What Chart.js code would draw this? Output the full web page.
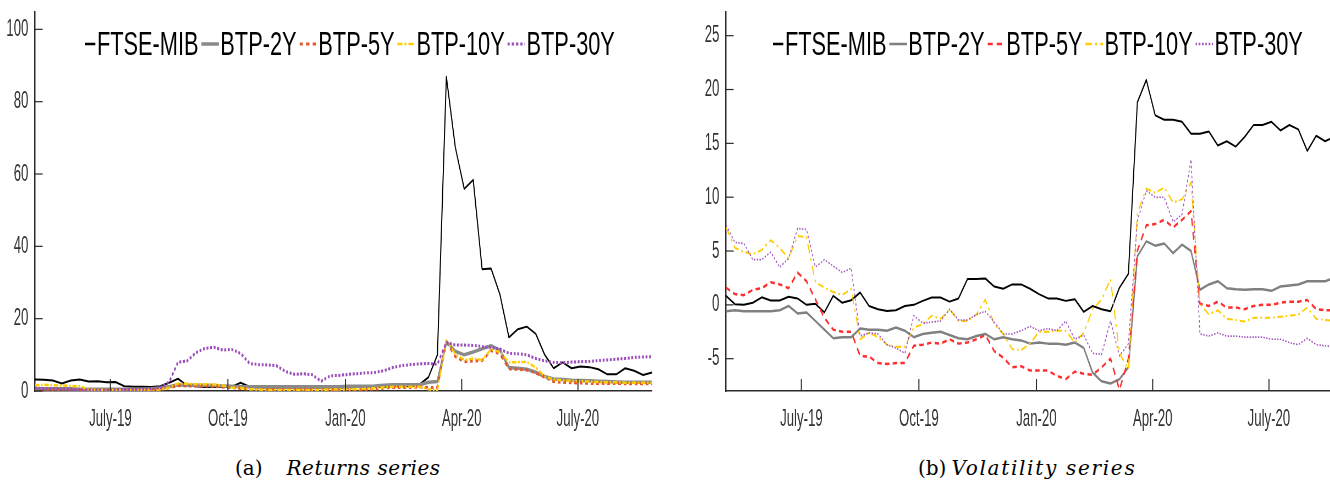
<!DOCTYPE html>
<html>
<head>
<meta charset="utf-8">
<script src="https://cdn.jsdelivr.net/npm/chart.js@4.4.1/dist/chart.umd.min.js"></script>
<style>
  html, body { margin: 0; padding: 0; background: #fff; }
  body { width: 1330px; height: 483px; overflow: hidden; position: relative; }
  /* the original figure is squeezed horizontally, so each chart is drawn wide and scaled down */
  .panel { position: absolute; top: 0; width: 1200px; height: 440px; transform: scaleX(0.55); transform-origin: 0 0; }
  #panelLeft { left: 0; }
  #panelRight { left: 691px; }
  .legend { position: absolute; top: 27px; height: 33px; display: flex; align-items: center; white-space: nowrap;
            font-family: 'Liberation Sans', Arial, sans-serif; font-size: 33px; line-height: 33px; color: #000;
            transform: scaleX(0.66); transform-origin: 0 0; }
  .legend .item { display: flex; align-items: center; margin-right: 4px; }
  .legend svg { margin-right: 2px; }
  .caption { position: absolute; top: 458px; font-family: 'DejaVu Serif', serif; font-size: 20px; line-height: 20px; color: #000; white-space: nowrap; }
  .caption i { font-style: italic; }
</style>
</head>
<body>
<div class="panel" id="panelLeft"><canvas id="retChart" width="1200" height="440"></canvas></div>
<div class="panel" id="panelRight"><canvas id="volChart" width="1200" height="440"></canvas></div>
<div class="legend" id="legendLeft" style="left:85px"></div>
<div class="legend" id="legendRight" style="left:773px"></div>
<div class="caption" style="left:235px">(a)<i style="margin-left:24px;letter-spacing:0.5px">Returns series</i></div>
<div class="caption" style="left:918px">(b)<i style="margin-left:5px;letter-spacing:1.7px">Volatility series</i></div>

<script>
// ---- data ----
const startDate = '2019-05-03';   // first weekly observation
const stepDays = 7;
const quarterDates = ['2019-07-01', '2019-10-01', '2020-01-01', '2020-04-01', '2020-07-01'];
const quarterLabels = ['July-19', 'Oct-19', 'Jan-20', 'Apr-20', 'July-20'];
const seriesNames = ['FTSE-MIB', 'BTP-2Y', 'BTP-5Y', 'BTP-10Y', 'BTP-30Y'];

// (a) returns
const ftseRet = [3.2,3.1,2.9,2.1,2.9,3.2,2.6,2.7,2.4,2.5,
  1.3,1.2,1.2,1.1,1.3,2.3,3.4,1.5,1.3,1.1,
  1.1,1.1,1.2,2.3,1.2,1.0,1.0,1.0,1.0,1.0,
  1.0,1.0,1.0,1.0,1.0,1.0,1.1,1.1,1.2,1.2,
  1.3,1.3,1.3,1.8,3.8,10.0,86.9,67.4,55.9,58.4,
  33.7,33.9,26.6,14.8,17.1,17.8,15.8,10.0,6.3,7.9,
  6.3,6.8,6.6,6.0,4.6,4.6,6.3,5.6,4.4,5.1];
const btp2Ret = [0.6,0.6,0.6,0.6,0.6,0.5,0.5,0.5,0.5,0.5,
  0.5,0.5,0.5,0.6,0.8,1.2,1.7,1.6,1.6,1.6,
  1.5,1.4,1.3,1.2,1.2,1.2,1.2,1.2,1.2,1.2,
  1.2,1.2,1.2,1.2,1.2,1.3,1.3,1.3,1.4,1.6,
  1.7,1.7,1.7,1.7,2.4,2.6,13.6,11.0,10.0,10.8,
  11.7,12.5,11.3,6.5,6.3,6.0,5.2,4.0,3.3,3.2,
  3.0,2.9,2.8,2.7,2.6,2.5,2.4,2.4,2.4,2.4];
const btp5Ret = [0.3,0.3,0.3,0.3,0.3,0.2,0.2,0.2,0.2,0.2,
  0.2,0.2,0.2,0.3,0.4,0.9,1.5,1.4,1.4,1.4,
  1.3,1.1,0.9,0.7,0.5,0.4,0.4,0.4,0.4,0.4,
  0.4,0.4,0.4,0.3,0.3,0.3,0.3,0.4,0.5,0.8,
  1.0,1.0,1.0,1.1,1.0,1.0,13.6,9.5,8.1,8.3,
  8.4,11.2,10.2,6.1,6.0,5.8,5.0,3.8,2.6,2.4,
  2.3,2.2,2.1,2.1,2.1,2.1,2.0,2.0,2.0,2.0];
const btp10Ret = [1.6,1.7,1.6,1.5,1.4,1.3,0.4,0.3,0.3,0.3,
  0.3,0.3,0.3,0.3,0.4,0.9,2.1,2.0,1.9,1.9,
  1.8,1.5,1.0,0.8,0.5,0.4,0.3,0.3,0.3,0.3,
  0.3,0.3,0.3,0.4,0.4,0.5,0.5,0.6,0.8,1.0,
  1.2,1.2,1.2,1.2,0.5,0.1,14.0,10.2,8.6,9.0,
  8.6,11.5,10.8,7.9,8.0,8.0,6.5,4.0,3.2,2.9,
  2.8,2.7,2.6,2.5,2.4,2.4,2.3,2.3,2.3,2.3];
const btp30Ret = [0.8,0.7,0.7,0.6,0.5,0.3,0.2,0.2,0.3,0.3,
  0.4,0.4,0.5,0.6,0.9,2.5,8.0,8.3,10.6,11.8,
  12.1,11.3,11.5,10.4,7.6,7.3,7.2,7.0,5.4,4.6,
  4.8,4.5,2.7,4.2,4.3,4.6,4.8,5.0,5.1,5.6,
  6.5,7.0,7.3,7.5,7.6,7.4,13.5,12.7,12.7,12.6,
  12.3,12.0,11.6,10.4,10.3,10.0,9.0,8.3,7.9,7.8,
  8.0,8.1,8.2,8.4,8.6,8.8,9.0,9.3,9.4,9.5];

// (b) volatility
const ftseVol = [0.84,0.06,0.0,0.2,0.7,0.4,0.4,0.75,0.6,0.0,
  0.1,-0.7,0.84,0.2,0.43,1.15,-0.1,-0.4,-0.56,-0.5,
  -0.1,0.0,0.37,0.68,0.68,0.3,0.6,2.4,2.4,2.45,
  1.7,1.5,1.9,1.9,1.5,1.0,0.6,0.6,0.37,0.53,
  -0.65,-0.1,-0.4,-0.6,1.6,2.9,18.8,20.9,17.6,17.2,
  17.2,17.0,15.9,15.9,16.1,14.8,15.2,14.7,15.6,16.7,
  16.7,17.0,16.2,16.7,16.3,14.3,15.7,15.2,15.6,15.8];
const btp2Vol = [-0.6,-0.5,-0.6,-0.6,-0.6,-0.6,-0.5,-0.1,-0.8,-0.7,
  -1.5,-2.3,-3.1,-3.0,-3.0,-2.2,-2.3,-2.3,-2.4,-2.1,
  -2.4,-3.0,-2.7,-2.6,-2.5,-2.8,-3.1,-3.2,-2.9,-2.7,
  -3.2,-3.0,-3.2,-3.3,-3.6,-3.5,-3.6,-3.6,-3.7,-3.5,
  -4.0,-6.3,-7.1,-7.3,-6.9,-5.8,4.5,5.9,5.5,5.7,
  4.8,5.6,5.0,1.4,1.9,2.2,1.55,1.45,1.4,1.45,
  1.45,1.3,1.7,1.8,1.9,2.2,2.2,2.2,2.5,2.5];
const btp5Vol = [1.6,1.0,0.9,1.4,1.55,2.1,1.9,1.55,3.0,2.2,
  0.5,-1.2,-2.3,-2.5,-2.5,-4.75,-4.8,-5.4,-5.5,-5.4,
  -5.4,-3.8,-3.7,-3.5,-3.6,-3.2,-3.6,-3.5,-3.2,-2.8,
  -4.3,-4.9,-5.8,-5.7,-6.1,-6.1,-6.1,-6.6,-6.9,-6.2,
  -6.4,-6.5,-5.8,-5.0,-7.9,-5.0,5.0,7.4,7.5,7.9,
  7.2,7.9,8.7,0.1,-0.1,0.3,-0.25,-0.25,-0.4,-0.1,
  0.0,0.0,0.2,0.3,0.3,0.45,-0.4,-0.5,-0.5,-0.5];
const btp10Vol = [7.2,5.3,4.9,4.7,5.1,6.0,5.3,4.3,6.4,6.3,
  2.1,1.6,1.2,0.9,1.5,-3.2,-2.6,-3.0,-3.7,-3.9,
  -3.9,-2.1,-1.8,-1.0,-1.3,-0.4,-1.5,-1.5,-0.9,0.5,
  -1.8,-2.7,-4.1,-4.2,-3.6,-2.5,-2.5,-2.4,-2.4,-3.5,
  -2.6,-0.4,0.5,2.4,-4.5,-6.0,8.5,10.8,10.4,10.9,
  9.5,9.8,11.4,0.1,-0.9,-0.5,-1.3,-1.4,-1.55,-1.2,
  -1.2,-1.2,-1.1,-1.0,-0.9,-0.25,-1.3,-1.4,-1.5,-1.5];
const btp30Vol = [7.4,5.8,5.7,4.2,4.2,4.9,3.5,4.3,7.1,7.0,
  3.5,4.2,3.6,3.0,3.4,-2.9,-2.6,-2.7,-3.7,-4.0,
  -4.5,-1.0,-1.7,-1.6,-1.5,-0.4,-1.4,-1.4,-0.9,-0.6,
  -1.6,-2.7,-2.7,-2.4,-2.0,-2.4,-2.2,-2.4,-1.5,-3.2,
  -2.8,-4.5,-4.6,-1.5,-4.75,-3.6,7.8,10.6,10.0,10.0,
  7.7,8.4,13.5,-2.7,-2.9,-2.6,-2.9,-2.9,-3.0,-3.0,
  -3.0,-3.2,-3.2,-3.5,-3.7,-3.1,-3.7,-3.8,-3.9,-3.9];

const retTicks = [0, 20, 40, 60, 80, 100];
const volTicks = [-5, 0, 5, 10, 15, 20, 25];

// ---- styles ----
const axisColor = '#2b2b2b';
const tickFont = { family: "'Liberation Sans', Arial, sans-serif", size: 24 };
const tickColor = '#333';

const retStyles = [
  { color: '#000000', width: 2,   dash: [] },
  { color: '#8a8a8a', width: 3.5, dash: [] },
  { color: '#e2572b', width: 3,   dash: [5, 5] },
  { color: '#ffcc00', width: 2.5, dash: [8, 3, 3, 3] },
  { color: '#9a4dbb', width: 3,   dash: [3.5, 3] }
];
const volStyles = [
  { color: '#000000', width: 2,   dash: [] },
  { color: '#808080', width: 2.5, dash: [] },
  { color: '#ff2e2e', width: 2.5, dash: [8, 6] },
  { color: '#ffcc00', width: 2,   dash: [10, 5, 3, 5] },
  { color: '#a055bb', width: 1.6, dash: [2.5, 2.5] }
];

const dayMs = 86400000;
const daysFromStart = d => Math.round((Date.parse(d) - Date.parse(startDate)) / dayMs);
const tickDays = quarterDates.map(daysFromStart);
const toPoints = vals => vals.map((v, i) => ({ x: i * stepDays, y: v }));

// MATLAB-like tick marks pointing into the plot
const inwardTicks = {
  id: 'inwardTicks',
  afterDraw(chart) {
    const { ctx, chartArea, scales } = chart;
    ctx.save();
    ctx.strokeStyle = axisColor;
    ctx.lineWidth = 2;
    scales.x.ticks.forEach(t => {
      const px = scales.x.getPixelForValue(t.value);
      ctx.beginPath();
      ctx.moveTo(px, chartArea.bottom);
      ctx.lineTo(px, chartArea.bottom - 12);
      ctx.stroke();
    });
    ctx.lineWidth = 1.2;
    scales.y.ticks.forEach(t => {
      const py = scales.y.getPixelForValue(t.value);
      ctx.beginPath();
      ctx.moveTo(chartArea.left, py);
      ctx.lineTo(chartArea.left + 14, py);
      ctx.stroke();
    });
    ctx.restore();
  }
};

function makeChart(id, series, styles, yMin, yMax, yTicks) {
  const datasets = series.map((vals, k) => ({
    label: seriesNames[k],
    data: toPoints(vals),
    borderColor: styles[k].color,
    borderWidth: styles[k].width,
    borderDash: styles[k].dash,
    borderJoinStyle: 'round',
    pointRadius: 0,
    tension: 0,
    fill: false,
    order: series.length - k
  }));
  const xMax = (series[0].length - 1) * stepDays;

  return new Chart(document.getElementById(id), {
    type: 'line',
    data: { datasets },
    plugins: [inwardTicks],
    options: {
      responsive: false,
      animation: false,
      devicePixelRatio: 1,
      layout: { padding: { top: 12, right: 14.5, bottom: 0, left: 0 } },
      plugins: { legend: { display: false }, tooltip: { enabled: false } },
      scales: {
        x: {
          type: 'linear', min: 0, max: xMax,
          border: { display: true, color: axisColor, width: 1.5 },
          grid: { display: false, drawTicks: false },
          ticks: { font: tickFont, color: tickColor, padding: 14, autoSkip: false, maxRotation: 0,
                   callback: (v, i) => quarterLabels[i] },
          afterBuildTicks: s => { s.ticks = tickDays.map(v => ({ value: v })); },
          afterFit: s => { s.height = 49; s.paddingLeft = 0; s.paddingRight = 0; }
        },
        y: {
          min: yMin, max: yMax,
          border: { display: true, color: axisColor, width: 2.5 },
          grid: { display: false, drawTicks: false },
          ticks: { font: tickFont, color: tickColor, padding: 12 },
          afterBuildTicks: s => { s.ticks = yTicks.map(v => ({ value: v })); },
          // fixed axis width, and no extra room for half a label above the top tick
          afterFit: s => { s.width = 63.6; s.paddingTop = 0; s.paddingBottom = 0; }
        }
      }
    }
  });
}

function buildLegend(id, styles) {
  const box = document.getElementById(id);
  styles.forEach((st, k) => {
    const w = k === 0 ? 16 : 27;
    const item = document.createElement('span');
    item.className = 'item';
    item.innerHTML =
      '<svg width="' + w + '" height="12"><line x1="0" y1="6" x2="' + w + '" y2="6" stroke="' + st.color +
      '" stroke-width="' + Math.max(st.width, 2.5) + '" stroke-dasharray="' + (st.dash.join(' ') || 'none') + '"/></svg>' +
      '<span>' + seriesNames[k] + '</span>';
    box.appendChild(item);
  });
}

makeChart('retChart', [ftseRet, btp2Ret, btp5Ret, btp10Ret, btp30Ret], retStyles, 0, 104.8, retTicks);
makeChart('volChart', [ftseVol, btp2Vol, btp5Vol, btp10Vol, btp30Vol], volStyles, -8, 27.2, volTicks);
buildLegend('legendLeft', retStyles);
buildLegend('legendRight', volStyles);
</script>
</body>
</html>
